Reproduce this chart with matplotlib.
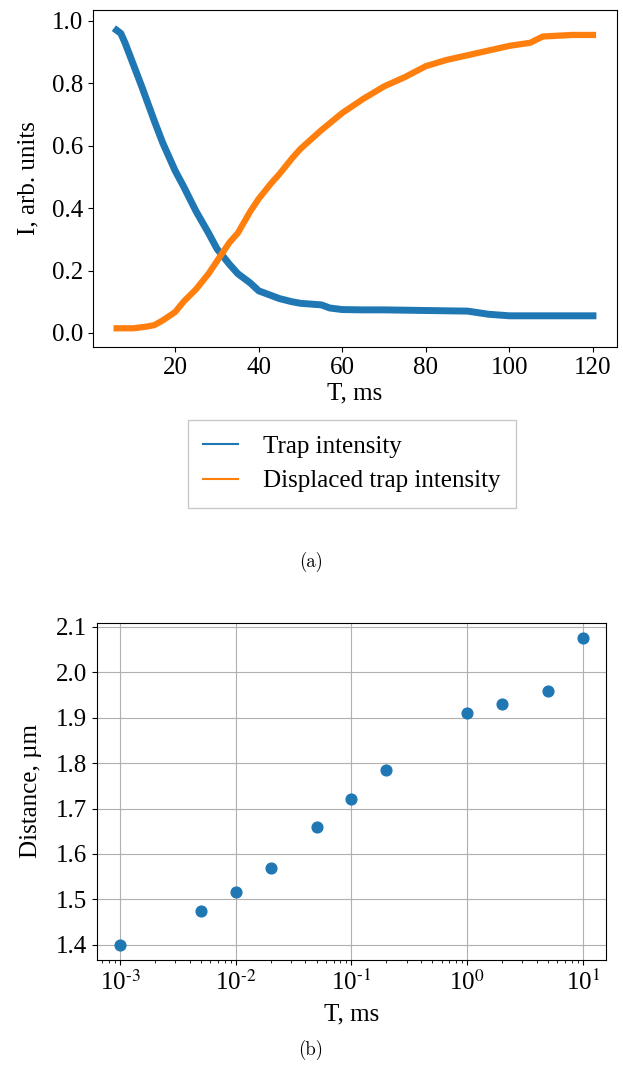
import numpy as np
import matplotlib
matplotlib.use("Agg")
import matplotlib.pyplot as plt

plt.rcParams['font.family'] = 'serif'
plt.rcParams['font.serif'] = ['Liberation Serif', 'DejaVu Serif']
plt.rcParams['mathtext.fontset'] = 'stix'
plt.rcParams['font.size'] = 18

# (a) intensity vs time
t_trap = [6, 7, 8, 10, 12, 15, 17, 20, 22, 25, 28, 30, 33, 35, 38, 40, 43, 45,
          48, 50, 55, 57, 60, 65, 70, 80, 90, 95, 100, 110, 120]
i_trap = [0.97, 0.96, 0.93, 0.86, 0.79, 0.68, 0.61, 0.52, 0.47, 0.39, 0.32, 0.27,
          0.22, 0.19, 0.16, 0.135, 0.12, 0.11, 0.10, 0.095, 0.09, 0.08, 0.075, 0.074,
          0.074, 0.072, 0.07, 0.06, 0.055, 0.055, 0.055]

t_disp = [6, 8, 10, 13, 15, 17, 20, 22, 25, 28, 30, 33, 35, 38, 40, 43, 45, 48,
          50, 55, 60, 65, 70, 75, 80, 85, 90, 95, 100, 105, 108, 115, 120]
i_disp = [0.015, 0.015, 0.015, 0.02, 0.025, 0.04, 0.067, 0.10, 0.14, 0.19, 0.23, 0.29,
          0.32, 0.39, 0.43, 0.48, 0.51, 0.56, 0.59, 0.65, 0.705, 0.75, 0.79, 0.82,
          0.855, 0.875, 0.89, 0.905, 0.92, 0.93, 0.95, 0.955, 0.955]

# (b) distance vs time
t_pts = [0.001, 0.005, 0.01, 0.02, 0.05, 0.1, 0.2, 1, 2, 5, 10]
dist = [1.40, 1.475, 1.515, 1.57, 1.66, 1.72, 1.785, 1.91, 1.93, 1.96, 2.075]
dec_labels = ['10$^{\\text{-3}}$', '10$^{\\text{-2}}$', '10$^{\\text{-1}}$',
              '10$^{\\text{0}}$', '10$^{\\text{1}}$']

fig = plt.figure(figsize=(6.23, 10.73), dpi=100)

ax1 = fig.add_axes([0.149, 0.6766, 0.841, 0.3141])
ax1.plot(t_trap, i_trap, color='#1f77b4', lw=5, label='Trap intensity')
ax1.plot(t_disp, i_disp, color='#ff7f0e', lw=4.5, label='Displaced trap intensity')
ax1.set_xlim(0.3, 125.7)
ax1.set_ylim(-0.045, 1.035)
ax1.set_xticks([20, 40, 60, 80, 100, 120])
ax1.set_yticks([0.0, 0.2, 0.4, 0.6, 0.8, 1.0])
ax1.set_xlabel('T, ms', labelpad=3)
ax1.set_ylabel('I, arb. units', labelpad=9)

handles, labels = ax1.get_legend_handles_labels()
leg = fig.legend(handles, labels, loc='upper center', bbox_to_anchor=(352 / 623, 1 - 420 / 1073),
                 borderaxespad=0, fancybox=False, edgecolor='#bbbbbb',
                 handlelength=1.4, handletextpad=1.0, borderpad=0.6)
for line in leg.get_lines():
    line.set_linewidth(1.5)

fig.text(311 / 623, 1 - 562 / 1073, '(a)', family='cmr10', fontsize=13.5, ha='center', va='center')

ax2 = fig.add_axes([0.1557, 0.1053, 0.817, 0.3141])
ax2.scatter(t_pts, dist, s=60, color='#1f77b4', zorder=3)
ax2.set_xscale('log')
ax2.set_xticks([1e-3, 1e-2, 1e-1, 1e0, 1e1])
ax2.set_xticklabels(dec_labels)
ax2.set_yticks([1.4, 1.5, 1.6, 1.7, 1.8, 1.9, 2.0, 2.1])
ax2.grid(True, which='major', color='#b0b0b0', lw=0.8)
ax2.set_axisbelow(True)
ax2.set_xlabel('T, ms', labelpad=6)
ax2.set_ylabel('Distance, µm', labelpad=10)

fig.text(311 / 623, 1 - 1050 / 1073, '(b)', family='cmr10', fontsize=13.5, ha='center', va='center')

fig.savefig('out.png', dpi=100)
